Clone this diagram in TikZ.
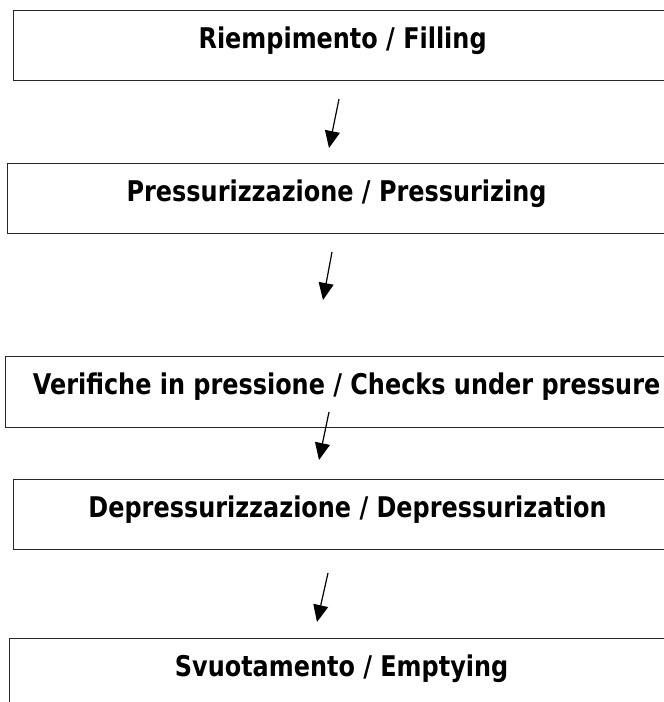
\documentclass[tikz,border=0pt]{standalone}
\usepackage{fontspec}
\newfontfamily\fasefont{DejaVu Sans}[FakeStretch=0.84]
\usetikzlibrary{arrows.meta}
\begin{document}
\begin{tikzpicture}[x=1pt, y=-1pt,
            fase/.style={shape=rectangle, draw=black!85, line width=1.2pt, anchor=north west,
                inner sep=0pt, text height=38pt, text depth=32pt,
                font=\fasefont\bfseries\fontsize{28.5pt}{32pt}\selectfont},
            freccia/.style={line width=1.2pt, -{Triangle[length=17pt, width=15pt]}},
        ]
        \useasboundingbox (0,0) rectangle (664,702);

        \node[fase, minimum width=658pt] (riemp) at (13, 10) {Riempimento / Filling};
        \node[fase, minimum width=658pt] (press) at (7, 163) {Pressurizzazione / Pressurizing};
        \node[fase, minimum width=682pt, text depth=33pt] (verif) at (5, 356) {Verifiche in pressione / Checks under pressure};
        \node[fase, minimum width=668pt] (depr) at (13, 479) {Depressurizzazione / Depressurization};
        \node[fase, minimum width=664pt] (svuot) at (9, 638) {Svuotamento / Emptying};

        \coordinate (a1) at (339, 99);
        \coordinate (b1) at (329, 148);
        \coordinate (a2) at (332, 252);
        \coordinate (b2) at (323, 300);
        \coordinate (a3) at (329, 412);
        \coordinate (b3) at (319, 460);
        \coordinate (a4) at (328, 573);
        \coordinate (b4) at (317, 622);

        \draw[freccia] (a1) -- (b1);
        \draw[freccia] (a2) -- (b2);
        \draw[freccia] (a3) -- (b3);
        \draw[freccia] (a4) -- (b4);

    \end{tikzpicture}
\end{document}
